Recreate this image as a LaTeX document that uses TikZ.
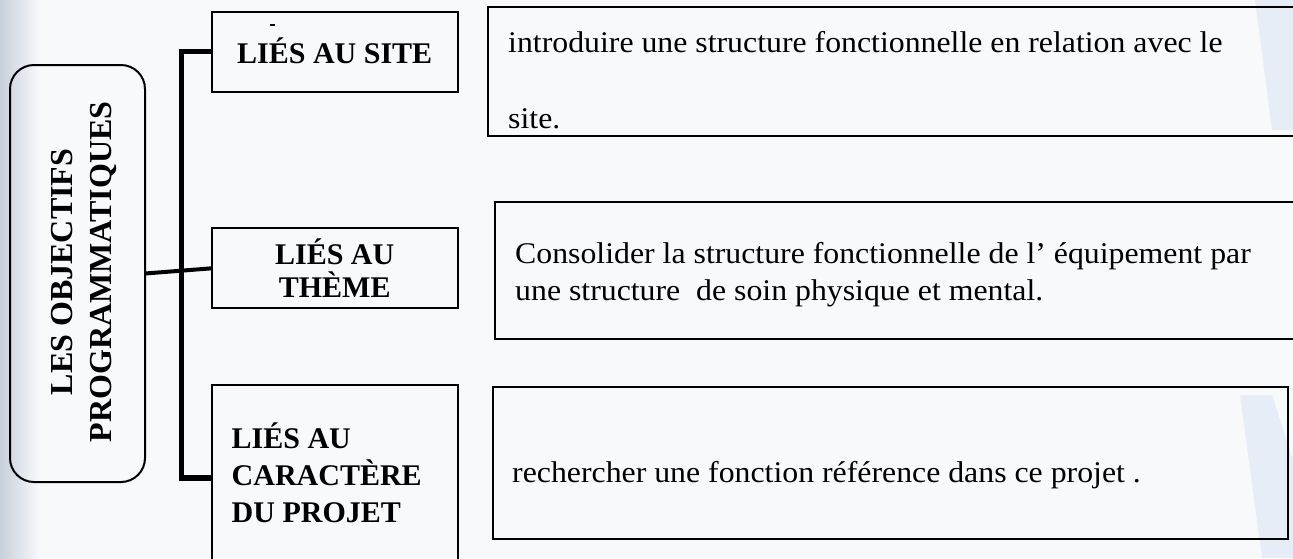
\documentclass[tikz,border=0pt]{standalone}
\usepackage{fontspec}
\setmainfont{Liberation Serif}
\newfontfamily\tnr{Liberation Serif}[FakeStretch=1.06]
\definecolor{bgc}{RGB}{248,249,251}
\definecolor{edgec}{RGB}{200,208,220}
\definecolor{wmc}{RGB}{230,237,246}
\begin{document}
\begin{tikzpicture}[x=1pt,y=-1pt,
  box/.style={draw=black, line width=2pt, inner sep=0pt, outer sep=0pt},
  rbox/.style={draw=black, line width=2.2pt, inner sep=0pt, outer sep=0pt},
  lab/.style={font=\bfseries\fontsize{30}{33}\selectfont, inner sep=0pt},
  vlab/.style={font=\bfseries\fontsize{32}{36}\selectfont, inner sep=0pt, rotate=90, anchor=base},
  desc/.style={font=\tnr\fontsize{30}{36}\selectfont, inner sep=0pt, anchor=base west},
  spine/.style={line width=5.5pt},
  link/.style={line width=4pt}]
% background
\fill[bgc] (0,0) rectangle (1293,558);
\shade[left color=edgec, right color=bgc, shading angle=90] (0,0) rectangle (40,558);
\fill[wmc] (1255,0) -- (1293,0) -- (1293,130) -- (1272,130) -- cycle;
\fill[wmc] (1240,395) -- (1272,395) -- (1293,460) -- (1293,558) -- (1262,558) -- cycle;
\useasboundingbox (0,0) rectangle (1293,558);
\clip (0,0) rectangle (1293,558);

% main rounded box
\node[box, rounded corners=24pt, minimum width=135pt, minimum height=417pt] (obj) at (77.5,273.5) {};
\node[vlab] (objA) at (72,272) {LES OBJECTIFS};
\node[vlab] (objB) at (111,272) {PROGRAMMATIQUES};

% category boxes
\node[box, minimum width=246pt, minimum height=80pt] (b1) at (334.7,51.7) {};
\node[box, minimum width=246pt, minimum height=80pt] (b2) at (334.7,268.3) {};
\node[box, minimum width=246pt, minimum height=187pt] (b3) at (334.7,478) {};

\node[lab, anchor=base] (t1) at (334.7,63) {LIÉS AU SITE};
\node[lab, align=center] (t2) at (334.7,268.5) {LIÉS AU\\THÈME};
\node[lab, anchor=base west] (t3a) at (231.5,448) {LIÉS AU};
\node[lab, anchor=base west] (t3b) at (231.5,485) {CARACTÈRE};
\node[lab, anchor=base west] (t3c) at (231.5,522.5) {DU PROJET};

% stray mark above first label
\draw[line width=1.5pt] (270,25) -- (275,25);

% description boxes
\node[rbox, minimum width=822pt, minimum height=129.3pt] (r1) at (899,71.35) {};
\node[rbox, minimum width=815pt, minimum height=137pt] (r2) at (902.5,270.5) {};
\node[rbox, minimum width=795.3pt, minimum height=152.3pt] (r3) at (890.35,462.85) {};

\node[desc] (d1a) at (508,52) {introduire une structure fonctionnelle en relation avec le};
\node[desc] (d1b) at (508,128) {site.};
\node[desc] (d2a) at (515,263.5) {Consolider la structure fonctionnelle de l’ équipement par};
\node[desc] (d2b) at (515,300.5) {une structure\ \ de soin physique et mental.};
\node[desc] (d3) at (512,482) {rechercher une fonction référence dans ce projet .};

% connectors
\draw[spine] (b1.west) -- ++(-30,0) |- (b3.west);
\draw[link] (obj.east) -- (b2.west);
\end{tikzpicture}
\end{document}
